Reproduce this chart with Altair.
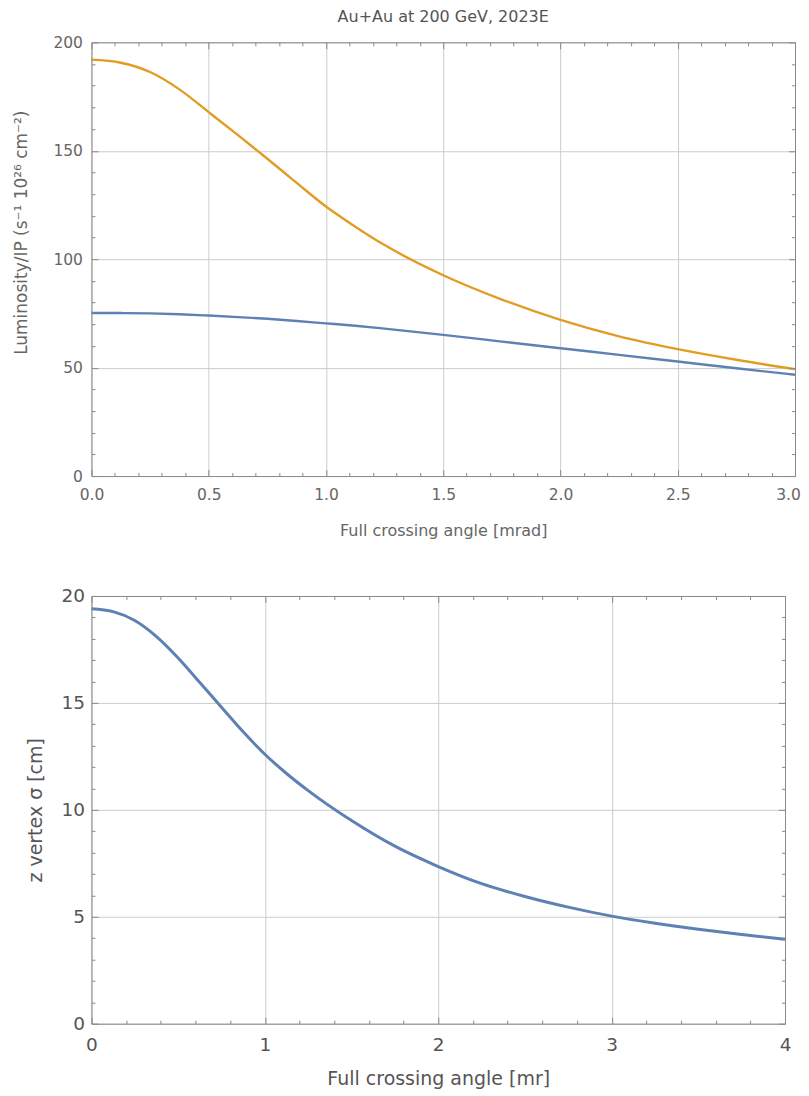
import altair as alt
import pandas as pd

# ---------------- data ----------------
angle_lum = [0.0, 0.125, 0.25, 0.375, 0.5, 0.625, 0.75, 0.875, 1.0, 1.125, 1.25, 1.5, 1.75,
             2.0, 2.25, 2.5, 2.75, 3.0]
lum_orange = [192.0, 190.6, 186.3, 178.3, 167.8, 157.2, 146.3, 135.2, 124.3, 115.0, 106.5,
              92.6, 81.4, 72.0, 64.4, 58.5, 53.6, 49.3]
lum_blue = [75.2, 75.15, 75.0, 74.6, 74.0, 73.3, 72.5, 71.5, 70.4, 69.3, 68.0,
            65.1, 62.0, 58.9, 55.9, 52.8, 49.7, 46.7]

angle_z = [0.0, 0.125, 0.25, 0.375, 0.5, 0.625, 0.75, 0.875, 1.0, 1.125, 1.25, 1.5, 1.75,
           2.0, 2.25, 2.5, 2.75, 3.0, 3.25, 3.5, 3.75, 4.0]
z_sigma = [19.4, 19.27, 18.85, 18.1, 17.1, 15.95, 14.8, 13.65, 12.6, 11.7, 10.9, 9.5, 8.3,
           7.35, 6.55, 5.95, 5.45, 5.03, 4.7, 4.42, 4.17, 3.95]

series_names = ["Blue", "Orange"]
series_colors = ["#5E81B5", "#E19C24"]

# tick positions
lum_x_major = [0.0, 0.5, 1.0, 1.5, 2.0, 2.5, 3.0]
lum_x_minor = [round(0.1 * i, 1) for i in range(31)]
lum_y_major = [0, 50, 100, 150, 200]
lum_y_minor = list(range(0, 201, 10))
z_x_major = [0, 1, 2, 3, 4]
z_x_minor = [round(0.2 * i, 1) for i in range(21)]
z_y_major = [0, 5, 10, 15, 20]
z_y_minor = list(range(0, 21))

FONT = "DejaVu Sans"
FRAME = "#8a8a8a"
GRID = "#cccccc"

lum_df = pd.DataFrame({
    "angle": angle_lum * 2,
    "lum": lum_blue + lum_orange,
    "series": [series_names[0]] * len(angle_lum) + [series_names[1]] * len(angle_lum),
})
z_df = pd.DataFrame({"angle": angle_z, "z": z_sigma})


def tick_size(step, major=6.5, minor=3.5):
    return {
        "condition": {
            "test": f"abs(datum.value/{step} - round(datum.value/{step})) < 1e-6",
            "value": major,
        },
        "value": minor,
    }


def panel(df, xf, yf, xdom, ydom, xmaj, xmin, ymaj, ymin, xstep, ystep,
          W, H, xfmt, yfmt, xtitle, ytitle, lfs, tfs, ytfs, lcol, tcol,
          xlabpad, ylabpad, xtitpad, ytitpad, sw, color, last_shift, ytitle_y=None):
    xs = alt.Scale(domain=xdom, nice=False, zero=False)
    ys = alt.Scale(domain=ydom, nice=False, zero=False)

    extra_y = {} if ytitle_y is None else {"titleY": ytitle_y}
    axA_x = alt.Axis(orient="bottom", values=xmaj, format=xfmt, labelFont=FONT,
                     labelFontSize=lfs, labelColor=lcol, labelPadding=xlabpad,
                     labelFlush=False, labelOverlap=False, ticks=False, tickSize=0,
                     labelOffset={"condition": {"test": f"datum.value >= {xdom[1]} - 1e-6",
                                                "value": last_shift}, "value": 0},
                     domain=False, grid=True, gridColor=GRID, gridWidth=1,
                     title=xtitle, titleFont=FONT, titleFontSize=tfs, titleColor=tcol,
                     titleFontWeight="normal", titlePadding=xtitpad)
    axA_y = alt.Axis(orient="left", values=ymaj, format=yfmt, labelFont=FONT,
                     labelFontSize=lfs, labelColor=lcol, labelPadding=ylabpad,
                     labelFlush=False, labelOverlap=False, ticks=False, tickSize=0,
                     domain=False, grid=True, gridColor=GRID, gridWidth=1,
                     title=ytitle, titleFont=FONT, titleFontSize=ytfs, titleColor=tcol,
                     titleFontWeight="normal", titlePadding=ytitpad, **extra_y)
    # inward ticks at bottom / left edges (plus frame lines)
    axB_x = alt.Axis(orient="top", offset=-H, values=xmin, labels=False, grid=False,
                     domain=True, domainColor=FRAME, domainWidth=1, ticks=True,
                     tickColor=FRAME, tickWidth=1, tickSize=tick_size(xstep),
                     title=None, zindex=1)
    axB_y = alt.Axis(orient="right", offset=-W, values=ymin, labels=False, grid=False,
                     domain=True, domainColor=FRAME, domainWidth=1, ticks=True,
                     tickColor=FRAME, tickWidth=1, tickSize=tick_size(ystep),
                     title=None, zindex=1)
    # inward ticks at top / right edges (plus frame lines)
    axC_x = alt.Axis(orient="bottom", offset=-H, values=xmin, labels=False, grid=False,
                     domain=True, domainColor=FRAME, domainWidth=1, ticks=True,
                     tickColor=FRAME, tickWidth=1, tickSize=tick_size(xstep),
                     title=None, zindex=1)
    axC_y = alt.Axis(orient="left", offset=-W, values=ymin, labels=False, grid=False,
                     domain=True, domainColor=FRAME, domainWidth=1, ticks=True,
                     tickColor=FRAME, tickWidth=1, tickSize=tick_size(ystep),
                     title=None, zindex=1)

    layers = []
    for i, (ax_x, ax_y) in enumerate([(axA_x, axA_y), (axB_x, axB_y), (axC_x, axC_y)]):
        enc = dict(
            x=alt.X(f"{xf}:Q", scale=xs, axis=ax_x),
            y=alt.Y(f"{yf}:Q", scale=ys, axis=ax_y),
        )
        if color is not None:
            enc["color"] = color
            enc["detail"] = "series:N"
        mk = alt.Chart(df).mark_line(interpolate="monotone", strokeWidth=sw,
                                     strokeOpacity=1 if i == 0 else 0,
                                     **({} if color is not None else {"color": "#5E81B5"}))
        layers.append(mk.encode(**enc))
    return alt.layer(*layers).resolve_axis(x="independent", y="independent").properties(
        width=W, height=H)


color_enc = alt.Color("series:N", scale=alt.Scale(domain=series_names, range=series_colors),
                      legend=None)

top = panel(lum_df, "angle", "lum", [0, 3], [0, 200], lum_x_major, lum_x_minor,
            lum_y_major, lum_y_minor, 0.5, 50, 704, 434, ".1f", "d",
            "Full crossing angle [mrad]", "Luminosity/IP (s⁻¹  10²⁶  cm⁻²)",
            15.5, 16, 17, "#666666", "#666666", 11.7, 9, 19, 22.5, 2.4, color_enc, -7,
            ytitle_y=190).properties(
    title=alt.TitleParams("Au+Au at 200 GeV, 2023E", font=FONT, fontSize=16,
                          fontWeight="normal", color="#555555", anchor="middle",
                          frame="group", baseline="bottom", offset=-5.6))

bottom = panel(z_df, "angle", "z", [0, 4], [0, 20], z_x_major, z_x_minor,
               z_y_major, z_y_minor, 1, 5, 694, 428, "d", "d",
               "Full crossing angle [mr]", "z vertex σ [cm]",
               18.5, 19, 19, "#555555", "#555555", 12, 7, 15, 15, 3.0, None, 0)

chart = alt.vconcat(top, bottom, spacing=120, bounds="flush").properties(
    padding={"left": 3.5, "top": 0, "right": 0, "bottom": 0},
    background="white",
).configure_view(stroke=None)

chart.save("out.html", embed_options={"renderer": "svg", "actions": False})
